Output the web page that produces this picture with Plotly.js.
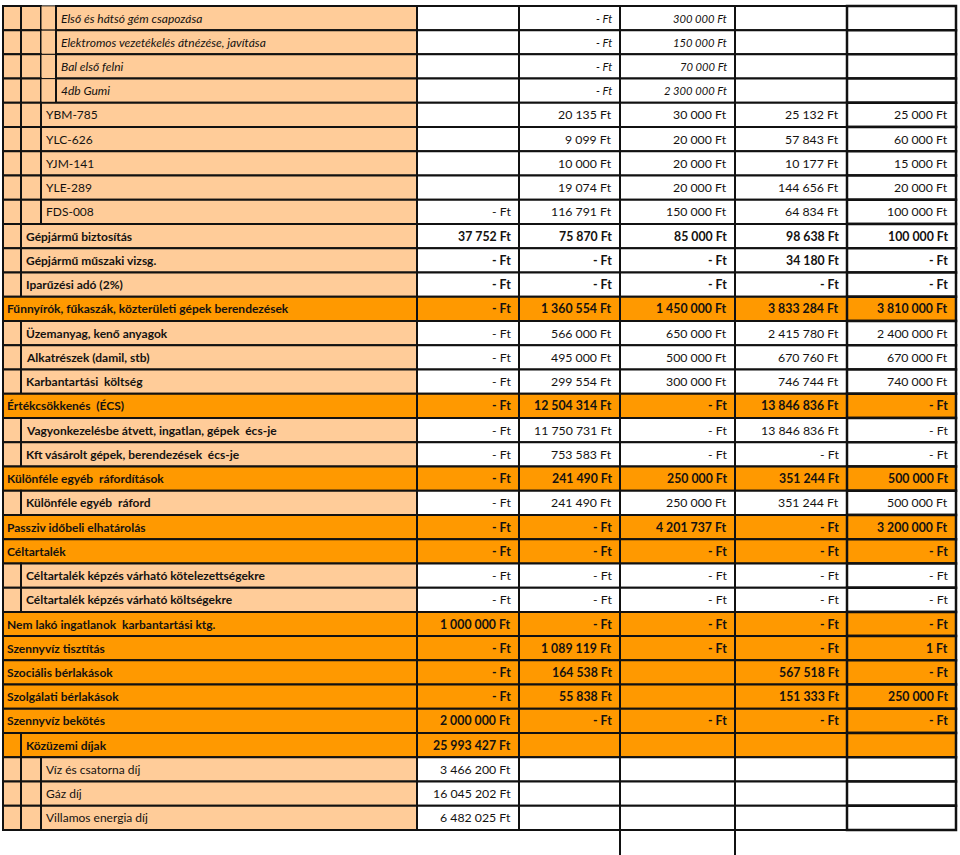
<!DOCTYPE html>
<html>
<head>
<meta charset="utf-8">
<script src="https://cdn.plot.ly/plotly-3.0.1.min.js"></script>
<style>html,body{margin:0;padding:0;background:#fff;}#chart{width:960px;height:855px;}</style>
</head>
<body>
<div id="chart"></div>
<script>
// ---- data ----
const labels = [
  "Első és hátsó gém csapozása",
  "Elektromos vezetékelés átnézése, javítása",
  "Bal első felni",
  "4db Gumi",
  "YBM-785",
  "YLC-626",
  "YJM-141",
  "YLE-289",
  "FDS-008",
  "Gépjármű biztosítás",
  "Gépjármű műszaki vizsg.",
  "Iparűzési adó (2%)",
  "Fűnnyírók, fűkaszák, közterületi gépek berendezések",
  "Üzemanyag, kenő anyagok",
  "Alkatrészek (damil, stb)",
  "Karbantartási  költség",
  "Értékcsökkenés  (ÉCS)",
  "Vagyonkezelésbe átvett, ingatlan, gépek  écs-je",
  "Kft vásárolt gépek, berendezések  écs-je",
  "Különféle egyéb  ráfordítások",
  "Különféle egyéb  ráford",
  "Passziv időbeli elhatárolás",
  "Céltartalék",
  "Céltartalék képzés várható kötelezettségekre",
  "Céltartalék képzés várható költségekre",
  "Nem lakó ingatlanok  karbantartási ktg.",
  "Szennyvíz tisztítás",
  "Szociális bérlakások",
  "Szolgálati bérlakások",
  "Szennyvíz bekötés",
  "Közüzemi díjak",
  "Víz és csatorna díj",
  "Gáz díj",
  "Villamos energia díj"
];
const levels = [3,3,3,3,2,2,2,2,2,1,1,1,0,1,1,1,0,1,1,0,1,0,0,1,1,0,0,0,0,0,1,2,2,2];
// kind: it = italic sub item, reg = regular sub item, hb = bold label + bold values,
// hr = bold label + regular values, main = orange group row
const kinds = ["it","it","it","it","reg","reg","reg","reg","reg","hb","hb","hb","main","hr","hr","hr","main","hr","hr","main","hr","main","main","hr","hr","main","main","main","main","main","main","reg","reg","reg"];
const col1 = [null,null,null,null,null,null,null,null,0,37752,0,0,0,0,0,0,0,0,0,0,0,0,0,0,0,1000000,0,0,0,2000000,25993427,3466200,16045202,6482025];
const col2 = [0,0,0,0,20135,9099,10000,19074,116791,75870,0,0,1360554,566000,495000,299554,12504314,11750731,753583,241490,241490,0,0,0,0,0,1089119,164538,55838,0,null,null,null,null];
const col3 = [300000,150000,70000,2300000,30000,20000,20000,20000,150000,85000,0,0,1450000,650000,500000,300000,0,0,0,250000,250000,4201737,0,0,0,0,0,null,null,0,null,null,null,null];
const col4 = [null,null,null,null,25132,57843,10177,144656,64834,98638,34180,0,3833284,2415780,670760,746744,13846836,13846836,0,351244,351244,0,0,0,0,0,0,567518,151333,0,null,null,null,null];
const col5 = [null,null,null,null,25000,60000,15000,20000,100000,100000,0,0,3810000,2400000,670000,740000,0,0,0,500000,500000,3200000,0,0,0,0,1,0,250000,0,null,null,null,null];
const valueCols = [col1,col2,col3,col4,col5];

// ---- layout constants ----
const indentX = [3, 21, 41, 56];
const colX = [417, 519, 620, 735, 847, 956];
const PEACH = "#FFCC99", ORANGE = "#FF9900", INK = "#141210";
const FONT = "Lato, 'Open Sans', sans-serif";

function fmt(v){
  if (v === null || v === undefined) return "";
  if (v === 0) return "- Ft";
  return String(v).replace(/\B(?=(\d{3})+(?!\d))/g, " ") + " Ft";
}

const shapes = [], annotations = [];
const nRows = labels.length;
for (let r = 0; r < nRows; r++){
  const L = levels[r], k = kinds[r];
  const orange = (k === "main");
  const fillL = orange ? ORANGE : PEACH;
  const fillV = orange ? ORANGE : "#FFFFFF";
  const lineW = 2;
  for (let i = 0; i < L; i++){
    shapes.push({type:"rect", xref:"x", yref:"y", x0:indentX[i], x1:indentX[i+1], y0:r, y1:r+1,
      fillcolor:fillL, line:{color:"#111", width:(i===2?1:lineW)}, layer:"below"});
  }
  shapes.push({type:"rect", xref:"x", yref:"y", x0:indentX[L], x1:colX[0], y0:r, y1:r+1,
    fillcolor:fillL, line:{color:"#111", width:lineW}, layer:"below"});
  for (let j = 0; j < 5; j++){
    shapes.push({type:"rect", xref:"x", yref:"y", x0:colX[j], x1:colX[j+1], y0:r, y1:r+1,
      fillcolor:fillV, line:{color:"#111", width:(j===4?2.5:lineW)}, layer:"below"});
  }
  const italic = (k === "it");
  const boldLabel = (k === "hb" || k === "hr" || k === "main");
  const boldVal = (k === "hb" || k === "main");
  const lsize = italic ? 12 : 12;
  const vsize = italic ? 11.2 : 12.3;
  annotations.push({xref:"x", yref:"y", x:indentX[L] + (L===0?2:3), y:r+0.5, xanchor:"left", yanchor:"middle",
    text:labels[r], showarrow:false,
    font:{family:FONT, size:lsize, color:INK, weight:boldLabel?"bold":"normal", style:italic?"italic":"normal"}});
  for (let j = 0; j < 5; j++){
    const t = fmt(valueCols[j][r]);
    if (!t) continue;
    annotations.push({xref:"x", yref:"y", x:colX[j+1]-6, y:r+0.5, xanchor:"right", yanchor:"middle",
      text:t, showarrow:false,
      font:{family:FONT, size:vsize, color:INK, weight:boldVal?"bold":"normal", style:italic?"italic":"normal"}});
  }
}
// column lines continuing below the table
[colX[2], colX[3]].forEach(x => {
  shapes.push({type:"line", xref:"x", yref:"y", x0:x, x1:x, y0:nRows, y1:nRows+1.2, line:{color:"#111", width:2}});
});

const layout = {
  width:960, height:855,
  margin:{l:0, r:0, t:0, b:0},
  paper_bgcolor:"#fff", plot_bgcolor:"#fff",
  showlegend:false,
  xaxis:{range:[0,960], visible:false, fixedrange:true},
  yaxis:{range:[35.03,-0.243], visible:false, fixedrange:true},
  shapes:shapes, annotations:annotations
};
Plotly.newPlot("chart", [{type:"scatter", x:[], y:[], mode:"markers", hoverinfo:"skip"}], layout, {displayModeBar:false, staticPlot:true});
</script>
</body>
</html>
